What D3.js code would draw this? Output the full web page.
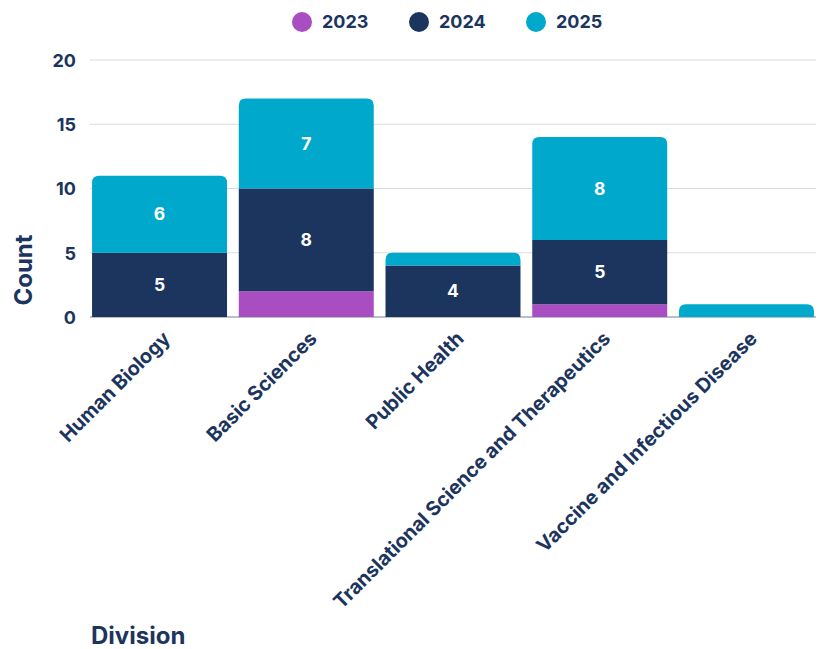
<!DOCTYPE html>
<html><head><meta charset="utf-8">
<script src="https://cdn.jsdelivr.net/npm/d3@7"></script>
<style>body{margin:0;background:#fff;} text{font-family:Inter,"Noto Sans",sans-serif;}</style>
</head><body>
<svg id="c" width="822" height="649"></svg>
<script>
const categories = ["Human Biology","Basic Sciences","Public Health","Translational Science and Therapeutics","Vaccine and Infectious Disease"];
const seriesNames = ["2023","2024","2025"];
const v2023 = [0,2,0,1,0];
const v2024 = [5,8,4,5,0];
const v2025 = [6,7,1,8,1];
const yTicks = [0,5,10,15,20];
const colors = ["#a84dc2","#1c355e","#00a9cc"];
const textColor = "#1c355e";

const svg = d3.select("#c");
const x = d3.scaleBand().domain(categories).range([90,816]).paddingInner(0.08).paddingOuter(0.014);
const y = d3.scaleLinear().domain([0,20]).range([317,60]);

// grid
svg.append("g").selectAll("line").data(yTicks).join("line")
  .attr("x1",90).attr("x2",816).attr("y1",d=>y(d)).attr("y2",d=>y(d))
  .attr("stroke",d=>d===0?"#b8bfcb":"#d8dce3").attr("stroke-width",d=>d===0?2:1.2);

// y axis labels
const yAxis = d3.axisLeft(y).tickValues(yTicks).tickSize(0).tickPadding(0);
const ga = svg.append("g").attr("transform","translate(76,0)").call(yAxis);
ga.select(".domain").remove();
ga.selectAll("text").attr("fill",textColor).attr("font-size",18).attr("font-weight",700).attr("dy","0.35em");

const data = categories.map((c,i)=>({cat:c,"2023":v2023[i],"2024":v2024[i],"2025":v2025[i]}));
const stack = d3.stack().keys(seriesNames)(data);
const r = 7;
function segPath(x0,w,yTop,yBot,round){
  if(!round) return `M${x0},${yBot}V${yTop}H${x0+w}V${yBot}Z`;
  const rr = Math.min(r,(yBot-yTop));
  return `M${x0},${yBot}V${yTop+rr}Q${x0},${yTop} ${x0+rr},${yTop}H${x0+w-rr}Q${x0+w},${yTop} ${x0+w},${yTop+rr}V${yBot}Z`;
}
stack.forEach((layer,li)=>{
  const g = svg.append("g");
  layer.forEach((d,i)=>{
    if(d[1]-d[0]<=0) return;
    const isTop = stack.slice(li+1).every(l=>l[i][1]-l[i][0]===0);
    g.append("path").attr("d",segPath(x(d.data.cat),x.bandwidth(),y(d[1]),y(d[0]),isTop)).attr("fill",colors[li]);
    const val = d[1]-d[0];
    if(val>=4){
      g.append("text").attr("x",x(d.data.cat)+x.bandwidth()/2).attr("y",(y(d[0])+y(d[1]))/2)
        .attr("dy","0.35em").attr("text-anchor","middle").attr("fill","#fff")
        .attr("font-size",17.5).attr("font-weight",700).text(val);
    }
  });
});

// x labels
svg.append("g").selectAll("text").data(categories).join("text")
  .attr("transform",d=>`translate(${x(d)+x.bandwidth()/2+7},${335}) rotate(-45)`)
  .attr("text-anchor","end").attr("dy","0.35em")
  .attr("fill",textColor).attr("font-size",19.8).attr("font-weight",700).text(d=>d);

// axis titles
svg.append("text").attr("transform","translate(32,270) rotate(-90)").attr("text-anchor","middle")
  .attr("fill",textColor).attr("font-size",24).attr("font-weight",700).text("Count");
svg.append("text").attr("x",91).attr("y",644).attr("fill",textColor).attr("font-size",24).attr("font-weight",700).text("Division");

// legend
const lx = [302,419,536];
const lg = svg.append("g");
seriesNames.forEach((s,i)=>{
  lg.append("circle").attr("cx",lx[i]).attr("cy",22).attr("r",10).attr("fill",colors[i]);
  lg.append("text").attr("x",lx[i]+20).attr("y",22).attr("dy","0.35em").attr("fill",textColor)
    .attr("font-size",18).attr("font-weight",700).text(s);
});
</script>
</body></html>
